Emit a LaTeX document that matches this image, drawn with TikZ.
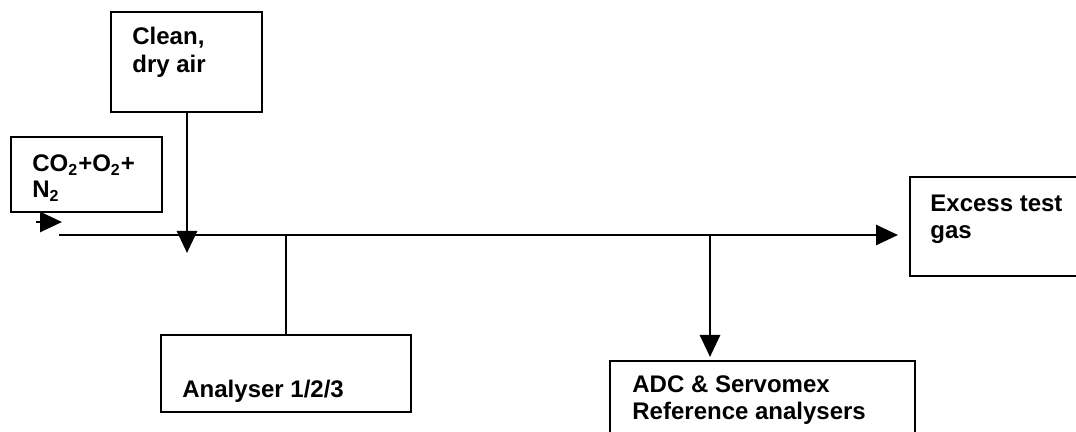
\documentclass[tikz,border=0pt]{standalone}
\usepackage{fontspec}
\setmainfont{Liberation Sans}
\usetikzlibrary{arrows.meta,fit}
\tikzset{
  box/.style={draw, line width=1pt, inner sep=0pt},
  lbl/.style={anchor=base west, inner sep=0pt, font=\fontsize{12}{14}\selectfont\bfseries},
  flow/.style={line width=1.4pt},
  arr/.style={flow, -{Triangle[length=11pt,width=10pt]}},
}
\begin{document}
\begin{tikzpicture}[x=0.5pt,y=-0.5pt]
\useasboundingbox (0,0) rectangle (1076,432);
\clip (0,0) rectangle (1076,432);
% boxes
\node[box, fit={(111,12) (262,112)}] (clean) {};
\node[box, fit={(11,137) (162,212)}] (mix) {};
\node[box, fit={(910,177) (1100,276)}] (excess) {};
\node[box, fit={(161,335) (411,412)}] (anal) {};
\node[box, fit={(610,361) (915,450)}] (adc) {};
% texts
\node[lbl] (clean1) at (132,45) {Clean,};
\node[lbl] (clean2) at (132,73) {dry air};
\node[lbl] (mix1) at (32,172) {CO\textsubscript{2}+O\textsubscript{2}+};
\node[lbl] (mix2) at (32,198) {N\textsubscript{2}};
\node[lbl] (exc1) at (930,212) {Excess test};
\node[lbl] (exc2) at (930,239) {gas};
\node[lbl] (anal1) at (182,398) {Analyser 1/2/3};
\node[lbl] (adc1) at (632,393) {ADC \& Servomex};
\node[lbl] (adc2) at (632,420) {Reference analysers};
% coordinates
\coordinate (inA) at (36,222);
\coordinate (inB) at (62,222);
\coordinate (mstart) at (59,235);
\coordinate (mend) at (898,235);
\coordinate (jclean) at (187,253);
\coordinate (janal) at (286,235);
\coordinate (jadc) at (710,235);
\coordinate (adctip) at (710,357);
% connectors
\draw[arr] (inA) -- (inB);
\draw[arr] (mstart) -- (mend);
\draw[arr] (clean.south -| jclean) -- (jclean);
\draw[flow] (janal) -- (anal.north);
\draw[arr] (jadc) -- (adctip);
\end{tikzpicture}
\end{document}
